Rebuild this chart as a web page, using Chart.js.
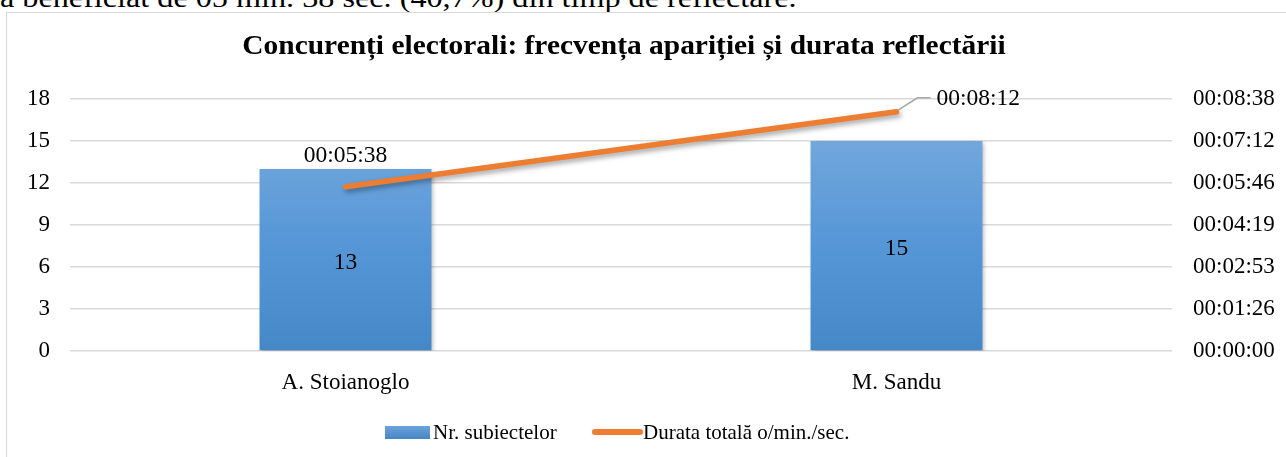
<!DOCTYPE html>
<html>
<head>
<meta charset="utf-8">
<script src="https://cdn.jsdelivr.net/npm/chart.js@4/dist/chart.umd.min.js"></script>
<style>
  html, body { margin: 0; padding: 0; background: #fff; width: 1286px; height: 457px; overflow: hidden; }
  #topText { position: absolute; left: 0; top: -16.5px; font-family: "Liberation Serif", "Times New Roman", serif; font-size: 28px; line-height: 28px; color: #000; white-space: nowrap; transform: scaleX(1.15); transform-origin: 0 0; }
  #frame { position: absolute; left: 6px; top: 12px; width: 1300px; height: 460px; border: 1px solid #d9d9d9; box-sizing: border-box; }
  #wrap { position: absolute; left: 0; top: 0; width: 1286px; height: 457px; }
</style>
</head>
<body>
<div id="topText">a beneficiat de 05 min. 38 sec. (40,7%) din timp de reflectare.</div>
<div id="frame"></div>
<div id="wrap"><canvas id="c" width="1286" height="457"></canvas></div>
<script>
const categories = ['A. Stoianoglo', 'M. Sandu'];
const subjectCounts = [13, 15];
const durationSeconds = [338, 492];           // 00:05:38, 00:08:12
const titleText = 'Concurenți electorali: frecvența apariției și durata reflectării';
const barLegend = 'Nr. subiectelor';
const lineLegend = 'Durata totală o/min./sec.';
const leftMax = 18, leftStep = 3;
const rightMax = 518.4, rightStep = 86.4;     // Excel time axis: 0.006 days, step 0.001 days

const SERIF = '"Liberation Serif", "Times New Roman", serif';

function fmtTime(sec) {
  const s = Math.round(sec);
  const h = Math.floor(s / 3600), m = Math.floor((s % 3600) / 60), r = s % 60;
  const p = n => String(n).padStart(2, '0');
  return p(h) + ':' + p(m) + ':' + p(r);
}

const overlay = {
  id: 'overlay',
  beforeDatasetDraw(chart, args) {
    const ctx = chart.ctx;
    ctx.save();
    if (args.index === 0) {
      ctx.shadowColor = 'rgba(0,0,0,0.35)';
      ctx.shadowBlur = 5;
      ctx.shadowOffsetX = 2;
      ctx.shadowOffsetY = 3;
    } else {
      ctx.shadowColor = 'rgba(0,0,0,0.25)';
      ctx.shadowBlur = 4;
      ctx.shadowOffsetX = 2;
      ctx.shadowOffsetY = 2;
    }
  },
  afterDatasetDraw(chart) {
    chart.ctx.restore();
  },
  afterDatasetsDraw(chart) {
    const ctx = chart.ctx;
    const barMeta = chart.getDatasetMeta(1);
    const lineMeta = chart.getDatasetMeta(0);
    ctx.save();
    ctx.fillStyle = '#000';
    ctx.font = '23.5px ' + SERIF;
    ctx.textAlign = 'center';
    ctx.textBaseline = 'middle';
    barMeta.data.forEach((b, i) => {
      ctx.fillText(String(subjectCounts[i]), b.x, (b.y + b.base) / 2 + 3);
    });
    const p0 = lineMeta.data[0];
    ctx.fillText(fmtTime(durationSeconds[0]), p0.x, p0.y - 31);
    const p1 = lineMeta.data[1];
    ctx.strokeStyle = '#a6a6a6';
    ctx.lineWidth = 1.5;
    ctx.beginPath();
    ctx.moveTo(p1.x + 2, p1.y - 2);
    ctx.lineTo(p1.x + 21, p1.y - 14);
    ctx.lineTo(p1.x + 34, p1.y - 14);
    ctx.stroke();
    ctx.textAlign = 'left';
    ctx.fillText(fmtTime(durationSeconds[1]), p1.x + 40, p1.y - 13);
    ctx.restore();
  },
  afterDraw(chart) {
    const ctx = chart.ctx;
    ctx.save();
    ctx.fillStyle = '#000';
    ctx.font = 'bold 27px ' + SERIF;
    ctx.textAlign = 'center';
    ctx.textBaseline = 'middle';
    ctx.translate(624, 47);
    ctx.scale(1.09, 1);
    ctx.fillText(titleText, 0, 0);
    ctx.restore();
    ctx.save();
    const ly = 432;
    ctx.font = '21px ' + SERIF;
    ctx.textAlign = 'left';
    ctx.textBaseline = 'middle';
    const g = ctx.createLinearGradient(0, ly - 7, 0, ly + 7);
    g.addColorStop(0, '#70a5db');
    g.addColorStop(1, '#4686c7');
    ctx.fillStyle = g;
    ctx.fillRect(385, ly - 6, 45, 13);
    ctx.fillStyle = '#000';
    ctx.fillText(barLegend, 433, ly + 1);
    ctx.strokeStyle = '#ed7d31';
    ctx.lineWidth = 6;
    ctx.lineCap = 'round';
    ctx.beginPath();
    ctx.moveTo(595, ly);
    ctx.lineTo(640, ly);
    ctx.stroke();
    ctx.fillText(lineLegend, 643, ly + 1);
    ctx.restore();
  }
};

const ctx = document.getElementById('c').getContext('2d');
function barGradient(context) {
  const chart = context.chart;
  const a = chart.chartArea;
  if (!a) return '#5b9bd5';
  const ys = chart.scales.y;
  const g = chart.ctx.createLinearGradient(0, ys.getPixelForValue(15), 0, ys.getPixelForValue(0));
  g.addColorStop(0, '#71a7dc');
  g.addColorStop(0.5, '#5596d7');
  g.addColorStop(1, '#4588c7');
  return g;
}

new Chart(ctx, {
  type: 'bar',
  data: {
    labels: categories,
    datasets: [
      {
        type: 'line',
        label: lineLegend,
        data: durationSeconds,
        yAxisID: 'y1',
        borderColor: '#ed7d31',
        borderWidth: 5.5,
        borderCapStyle: 'round',
        pointRadius: 0,
        pointHoverRadius: 0,
        tension: 0,
        order: 0
      },
      {
        type: 'bar',
        label: barLegend,
        data: subjectCounts,
        yAxisID: 'y',
        backgroundColor: barGradient,
        categoryPercentage: 1,
        barPercentage: 0.312,
        order: 1
      }
    ]
  },
  options: {
    responsive: false,
    animation: false,
    devicePixelRatio: 1,
    layout: { padding: { left: 0, right: 0, top: 99, bottom: 56 } },
    plugins: {
      legend: { display: false },
      title: { display: false },
      tooltip: { enabled: false }
    },
    scales: {
      x: {
        grid: { display: false, drawTicks: false },
        border: { display: false },
        ticks: { color: '#000', font: { family: SERIF, size: 23 }, padding: 18 },
        afterFit(s) { s.height = 50; }
      },
      y: {
        position: 'left',
        min: 0, max: leftMax,
        ticks: { stepSize: leftStep, color: '#000', font: { family: SERIF, size: 23 }, padding: 20 },
        grid: { color: '#d9d9d9', lineWidth: 1.5, drawTicks: false },
        border: { display: false },
        afterFit(s) { s.width = 70; }
      },
      y1: {
        position: 'right',
        min: 0, max: rightMax,
        ticks: { stepSize: rightStep, color: '#000', font: { family: SERIF, size: 23 }, padding: 21, callback: v => fmtTime(v) },
        grid: { display: false, drawTicks: false },
        border: { display: false },
        afterFit(s) { s.width = 114; }
      }
    }
  },
  plugins: [overlay]
});
</script>
</body>
</html>
